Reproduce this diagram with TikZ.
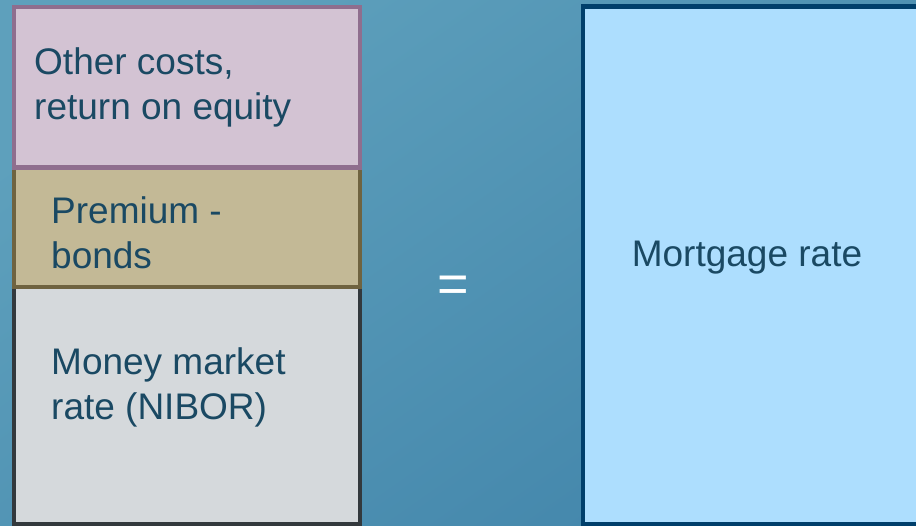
\documentclass[tikz,border=0pt]{standalone}
\usepackage{fontspec}
\setmainfont{Liberation Sans}
\begin{document}
\definecolor{bgLight}{HTML}{5EA0BC}
\definecolor{bgDark}{HTML}{4386AB}
\definecolor{inkBlue}{HTML}{1A4963}
\definecolor{pinkFill}{HTML}{D3C3D3}
\definecolor{pinkLine}{HTML}{8F6E8E}
\definecolor{tanFill}{HTML}{C3B996}
\definecolor{tanLine}{HTML}{6F6340}
\definecolor{greyFill}{HTML}{D5D9DC}
\definecolor{greyLine}{HTML}{33393D}
\definecolor{skyFill}{HTML}{ADDEFE}
\definecolor{skyLine}{HTML}{003F6B}
\begin{tikzpicture}[x=1pt,y=-1pt,
  layer/.style={line width=4.5pt},
  label/.style={anchor=north west,inner sep=0pt,align=left,text=inkBlue,
    font=\fontsize{37}{44.5}\selectfont},
]
% canvas with a soft diagonal gradient
\useasboundingbox (0,0) rectangle (916,525);
\clip (0,0) rectangle (916,525);
\shade[shading=axis,top color=bgLight,bottom color=bgDark,shading angle=35]
  (0,0) rectangle (916,525);

% stacked components of the rate (drawn bottom-up so upper borders overlap)
\draw[layer,fill=greyFill,draw=greyLine] (14,287) rectangle (360,524);
\draw[layer,fill=tanFill,draw=tanLine] (14,167.5) rectangle (360,287);
\draw[layer,fill=pinkFill,draw=pinkLine] (14,7) rectangle (360,167.5);

\node[label] (other) at (34,47.5) {Other costs,\\return on equity};
\node[label] (premium) at (51,196.5) {Premium -\\bonds};
\node[label] (money) at (51,347.5) {Money market\\rate (NIBOR)};

% equality sign
\node[anchor=base,inner sep=0pt,text=white,font=\fontsize{54}{60}\selectfont]
  (eq) at (453.5,302.8) {=};

% resulting rate
\draw[layer,fill=skyFill,draw=skyLine] (583,6.5) rectangle (930,524);
\node[anchor=base,inner sep=0pt,text=inkBlue,font=\fontsize{37}{44}\selectfont]
  (mortgage) at (747,266) {Mortgage rate};
\end{tikzpicture}
\end{document}
